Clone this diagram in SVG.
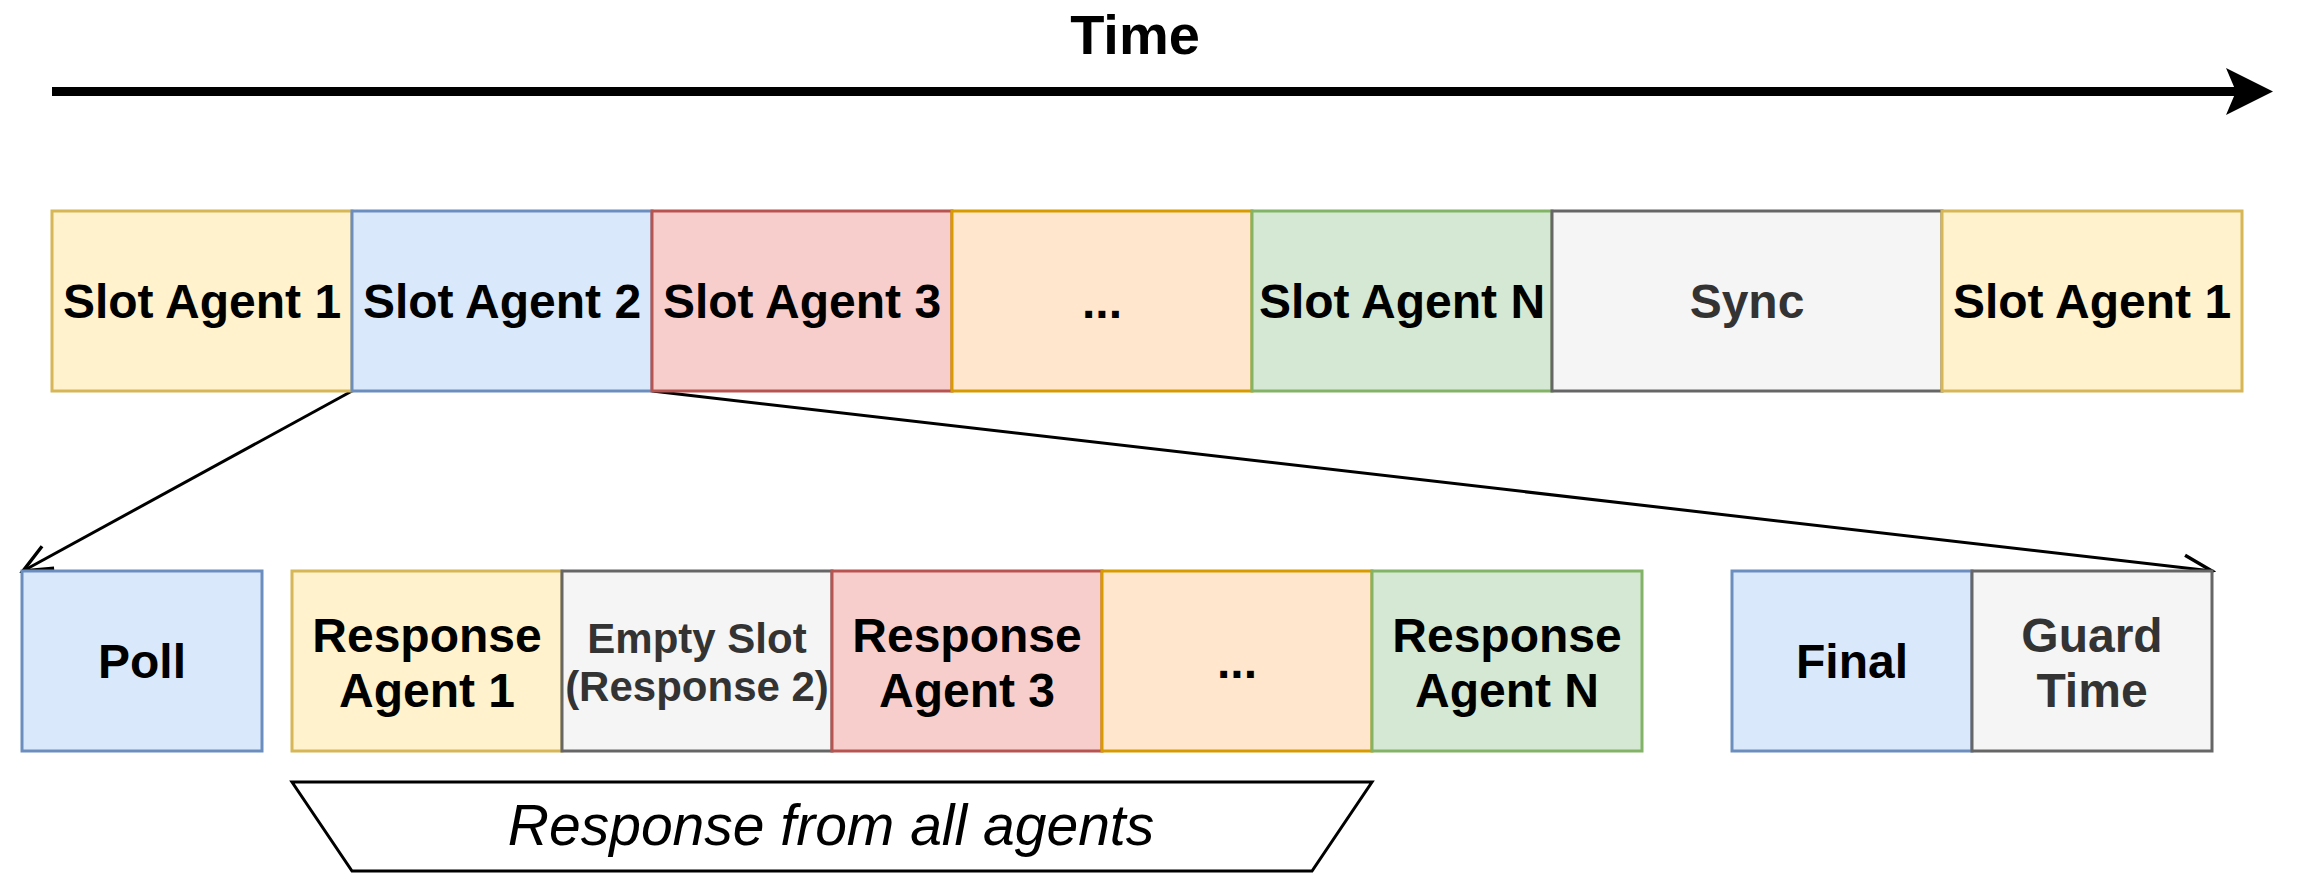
<svg xmlns="http://www.w3.org/2000/svg" width="2301" height="873" viewBox="0 0 2301 873">
<style>
rect{stroke-width:3}
text{font-family:"Liberation Sans",Arial,sans-serif;font-weight:bold;text-anchor:middle;fill:#000}
.big{font-size:48px}
.mid{font-size:42px}
.grey text,text.grey{fill:#333333}
.y{fill:#fff2cc;stroke:#d6b656}
.b{fill:#dae8fc;stroke:#6c8ebf}
.r{fill:#f8cecc;stroke:#b85450}
.o{fill:#ffe6cc;stroke:#d79b00}
.g{fill:#d5e8d4;stroke:#82b366}
.s{fill:#f5f5f5;stroke:#666666}
.conn{fill:none;stroke:#000;stroke-width:3}
</style>
<defs>
<marker id="open" markerUnits="userSpaceOnUse" markerWidth="40" markerHeight="40" refX="0" refY="0" viewBox="-30 -15 35 30" orient="auto" overflow="visible">
<path d="M-25,-11 L0,0 L-25,11" fill="none" stroke="#000" stroke-width="3"/>
</marker>
</defs>
<g id="title"><text x="1135" y="54" style="font-size:56px">Time</text></g>
<g id="time-arrow">
<line x1="52" y1="91.5" x2="2238" y2="91.5" stroke="#000" stroke-width="9"/>
<path d="M2273,91.5 L2226,68 L2236,91.5 L2226,115 Z" fill="#000"/>
</g>
<g id="connectors">
<line class="conn" x1="352" y1="391" x2="23" y2="571" marker-end="url(#open)"/>
<line class="conn" x1="652" y1="391" x2="2212" y2="571" marker-end="url(#open)"/>
</g>
<g id="slot1"><rect class="y" x="52" y="211" width="300" height="180"/><text class="big" x="202" y="318">Slot Agent 1</text></g>
<g id="slot2"><rect class="b" x="352" y="211" width="300" height="180"/><text class="big" x="502" y="318">Slot Agent 2</text></g>
<g id="slot3"><rect class="r" x="652" y="211" width="300" height="180"/><text class="big" x="802" y="318">Slot Agent 3</text></g>
<g id="slotdots"><rect class="o" x="952" y="211" width="300" height="180"/><text class="big" x="1102" y="318">...</text></g>
<g id="slotN"><rect class="g" x="1252" y="211" width="300" height="180"/><text class="big" x="1402" y="318">Slot Agent N</text></g>
<g id="sync"><rect class="s" x="1552" y="211" width="390" height="180"/><text class="big grey" x="1747" y="318">Sync</text></g>
<g id="slot1b"><rect class="y" x="1942" y="211" width="300" height="180"/><text class="big" x="2092" y="318">Slot Agent 1</text></g>
<g id="poll"><rect class="b" x="22" y="571" width="240" height="180"/><text class="big" x="142" y="678">Poll</text></g>
<g id="resp1"><rect class="y" x="292" y="571" width="270" height="180"/><text class="big" x="427" y="652">Response</text><text class="big" x="427" y="707">Agent 1</text></g>
<g id="empty"><rect class="s" x="562" y="571" width="270" height="180"/><text class="mid grey" x="697" y="653">Empty Slot</text><text class="mid grey" x="697" y="701">(Response 2)</text></g>
<g id="resp3"><rect class="r" x="832" y="571" width="270" height="180"/><text class="big" x="967" y="652">Response</text><text class="big" x="967" y="707">Agent 3</text></g>
<g id="respdots"><rect class="o" x="1102" y="571" width="270" height="180"/><text class="big" x="1237" y="678">...</text></g>
<g id="respN"><rect class="g" x="1372" y="571" width="270" height="180"/><text class="big" x="1507" y="652">Response</text><text class="big" x="1507" y="707">Agent N</text></g>
<g id="final"><rect class="b" x="1732" y="571" width="240" height="180"/><text class="big" x="1852" y="678">Final</text></g>
<g id="guard"><rect class="s" x="1972" y="571" width="240" height="180"/><text class="big grey" x="2092" y="652">Guard</text><text class="big grey" x="2092" y="707">Time</text></g>
<g id="all-agents">
<polygon points="292,782 1372,782 1312,871 352,871" fill="#fff" stroke="#000" stroke-width="3"/>
<text x="831" y="845" style="font-size:57px;font-weight:normal;font-style:italic">Response from all agents</text>
</g>
</svg>
